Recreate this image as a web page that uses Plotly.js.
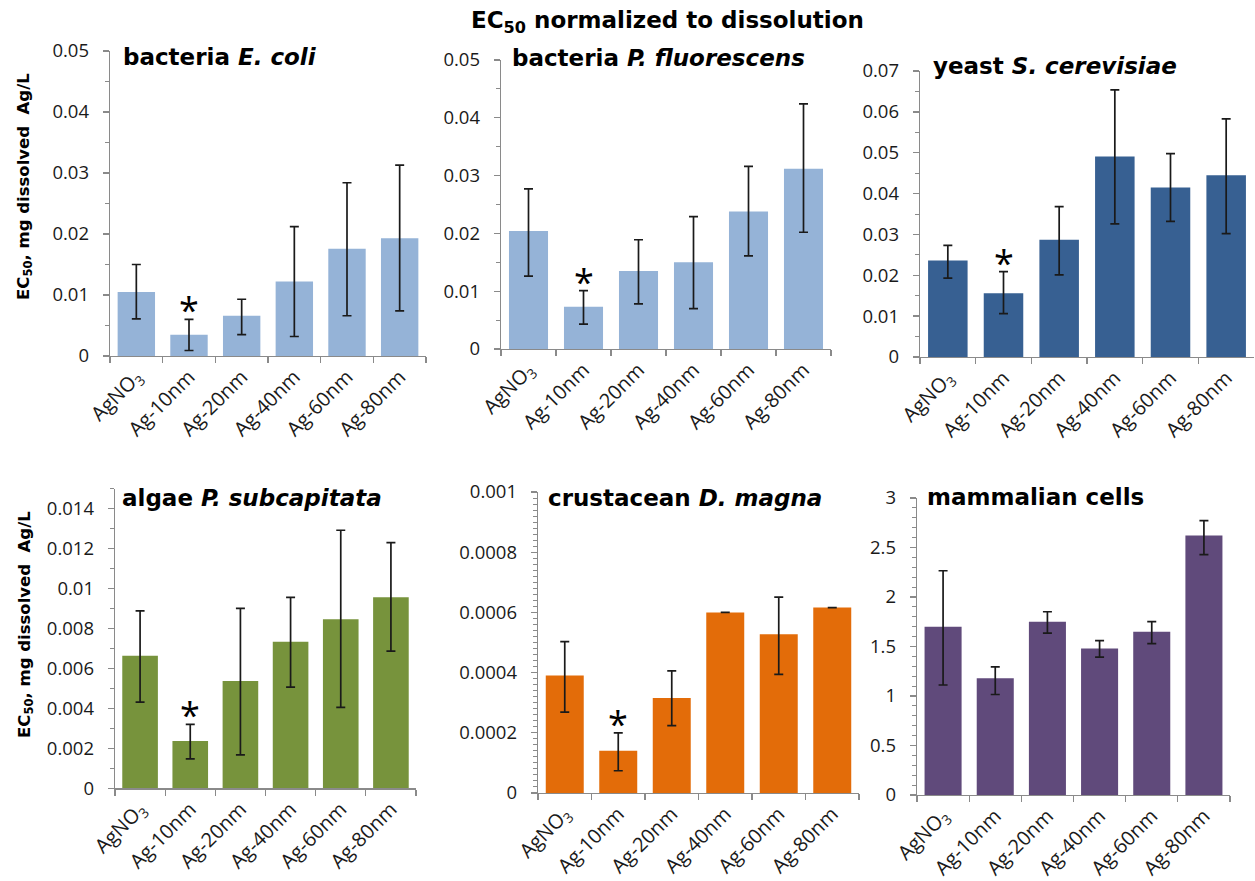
<!DOCTYPE html>
<html><head><meta charset="utf-8">
<script src="https://cdn.plot.ly/plotly-3.0.1.min.js"></script>
<style>html,body{margin:0;padding:0;background:#fff}#chart{width:1255px;height:881px}</style>
</head><body><div id="chart"></div>
<script>
// ---- data ----
const categories = ['AgNO<sub>3</sub>', 'Ag-10nm', 'Ag-20nm', 'Ag-40nm', 'Ag-60nm', 'Ag-80nm'];
const mainTitle = 'EC<sub>50</sub> normalized to dissolution';
const yAxisTitle = 'EC<sub>50</sub>, mg dissolved  Ag/L';
const panelTitles = ['bacteria <i>E. coli</i>', 'bacteria <i>P. fluorescens</i>', 'yeast <i>S. cerevisiae</i>',
                     'algae <i>P. subcapitata</i>', 'crustacean <i>D. magna</i>', 'mammalian cells'];

const ecoliValues    = [0.0105, 0.0035, 0.0066, 0.0122, 0.0176, 0.0193];
const ecoliErrPlus   = [0.0045, 0.0025, 0.0027, 0.0090, 0.0108, 0.0120];
const ecoliErrMinus  = [0.0044, 0.0026, 0.0031, 0.0090, 0.0110, 0.0119];

const pfluoValues    = [0.0204, 0.0073, 0.0135, 0.0150, 0.0238, 0.0312];
const pfluoErrPlus   = [0.0073, 0.0028, 0.0054, 0.0079, 0.0078, 0.0112];
const pfluoErrMinus  = [0.0078, 0.0030, 0.0057, 0.0080, 0.0077, 0.0110];

const yeastValues    = [0.0236, 0.0156, 0.0287, 0.0491, 0.0415, 0.0445];
const yeastErrPlus   = [0.0037, 0.0053, 0.0081, 0.0163, 0.0083, 0.0138];
const yeastErrMinus  = [0.0043, 0.0050, 0.0086, 0.0165, 0.0083, 0.0143];

const algaeValues    = [0.00664, 0.00237, 0.00537, 0.00734, 0.00846, 0.00956];
const algaeErrPlus   = [0.00224, 0.00083, 0.00364, 0.00222, 0.00446, 0.00274];
const algaeErrMinus  = [0.00233, 0.00090, 0.00370, 0.00227, 0.00441, 0.00269];

const magnaValues    = [0.000390, 0.000140, 0.000316, 0.000600, 0.000527, 0.000616];
const magnaErrPlus   = [0.000113, 0.000060, 0.000090, 0.0, 0.000124, 0.0];
const magnaErrMinus  = [0.000121, 0.000066, 0.000092, 0.0, 0.000133, 0.0];

const mammalValues   = [1.70, 1.18, 1.75, 1.48, 1.65, 2.62];
const mammalErrPlus  = [0.565, 0.114, 0.101, 0.080, 0.101, 0.152];
const mammalErrMinus = [0.589, 0.165, 0.114, 0.088, 0.121, 0.191];

const barColors = ['#95B3D7', '#95B3D7', '#376092', '#77933C', '#E36C09', '#604A7B'];
const significant = [true, true, true, true, true, false];

// ---- layout / styling ----
const W = 1255, H = 881;
const series = [
  [ecoliValues, ecoliErrPlus, ecoliErrMinus],
  [pfluoValues, pfluoErrPlus, pfluoErrMinus],
  [yeastValues, yeastErrPlus, yeastErrMinus],
  [algaeValues, algaeErrPlus, algaeErrMinus],
  [magnaValues, magnaErrPlus, magnaErrMinus],
  [mammalValues, mammalErrPlus, mammalErrMinus]
];
// pixel boxes: [left, right, top, bottom]
const boxes = [
  [110, 426, 51, 356],
  [501, 831, 60, 349],
  [920, 1254, 71, 357],
  [115, 416, 488.7, 788.3],
  [538, 859, 492, 793],
  [917, 1230, 498, 795]
];
const yRanges = [[0, 0.05], [0, 0.05], [0, 0.07], [0, 0.015], [0, 0.001], [0, 3]];
const yDticks = [0.01, 0.01, 0.01, 0.002, 0.0002, 0.5];
const yMinor  = [0.005, 0.005, 0.005, 0.001, 0.00002, 0.1];
const yFormats = ['.2~f', '.2~f', '.2~f', '.3~f', '.4~f', '.1~f'];
// panel title anchors (px): left x, middle y
const titlePos = [[121, 57], [510, 58], [931, 66], [120, 498], [546, 498], [925, 497]];

const axisColor = '#8a8a8a';
const textColor = '#1a1a1a';
const FONT = 'Open Sans, Liberation Sans, sans-serif';
const TFONT = 'DejaVu Sans, Open Sans, sans-serif';

const traces = [];
const layout = {
  width: W, height: H,
  margin: {l: 0, r: 0, t: 0, b: 0},
  paper_bgcolor: '#ffffff', plot_bgcolor: '#ffffff',
  showlegend: false,
  bargap: 0.29,
  font: {family: FONT, color: textColor},
  annotations: []
};

const px = x => x / W;
const py = y => 1 - y / H;

series.forEach((s, i) => {
  const n = i + 1;
  const xa = 'x' + (n === 1 ? '' : n), ya = 'y' + (n === 1 ? '' : n);
  traces.push({
    type: 'bar', x: categories, y: s[0], xaxis: xa, yaxis: ya,
    marker: {color: barColors[i], line: {width: 0}},
    error_y: {type: 'data', symmetric: false, array: s[1], arrayminus: s[2],
              color: '#1a1a1a', thickness: 1.7, width: 4.5},
    hoverinfo: 'x+y'
  });
  const b = boxes[i];
  layout['xaxis' + (n === 1 ? '' : n)] = {
    domain: [px(b[0]), px(b[1])], anchor: ya,
    type: 'category', range: [-0.5, 5.5], fixedrange: true,
    showline: true, linecolor: axisColor, linewidth: 1.3,
    ticks: 'outside', tickson: 'boundaries', ticklen: 6, tickcolor: axisColor, tickwidth: 1.3,
    tickangle: -45, tickfont: {family: FONT, size: 20, color: textColor},
    showgrid: false, zeroline: false
  };
  layout['yaxis' + (n === 1 ? '' : n)] = {
    domain: [py(b[3]), py(b[2])], anchor: xa,
    range: yRanges[i], dtick: yDticks[i], tick0: 0, tickformat: yFormats[i], fixedrange: true,
    showline: true, linecolor: axisColor, linewidth: 1.3,
    ticks: 'outside', ticklen: 6, tickcolor: axisColor, tickwidth: 1.3,
    minor: {dtick: yMinor[i], ticks: 'outside', ticklen: 4, tickcolor: axisColor, tickwidth: 1, showgrid: false},
    tickfont: {family: FONT, size: 18.5, color: textColor},
    ticklabelstandoff: 10,
    showgrid: false, zeroline: false
  };
  layout.annotations.push({
    xref: 'paper', yref: 'paper', x: px(titlePos[i][0]), y: py(titlePos[i][1]),
    xanchor: 'left', yanchor: 'middle', showarrow: false,
    text: '<b>' + panelTitles[i] + '</b>', font: {family: TFONT, size: 23, color: '#000'}
  });
  if (significant[i]) {
    layout.annotations.push({
      xref: xa, yref: ya, x: categories[1], y: s[0][1] + s[1][1],
      xanchor: 'center', yanchor: 'bottom', yshift: -17, showarrow: false,
      text: '*', font: {family: FONT, size: 36, color: '#000'}
    });
  }
});

layout.annotations.push({
  xref: 'paper', yref: 'paper', x: px(667), y: py(22), xanchor: 'center', yanchor: 'middle',
  showarrow: false, text: '<b>' + mainTitle + '</b>', font: {family: TFONT, size: 23, color: '#000'}
});
[187, 625].forEach(yc => {
  layout.annotations.push({
    xref: 'paper', yref: 'paper', x: px(25), y: py(yc), xanchor: 'center', yanchor: 'middle',
    textangle: -90, showarrow: false, text: '<b>' + yAxisTitle + '</b>',
    font: {family: TFONT, size: 16.5, color: '#000'}
  });
});

Plotly.newPlot('chart', traces, layout, {staticPlot: true, displayModeBar: false});
</script>
</body></html>
